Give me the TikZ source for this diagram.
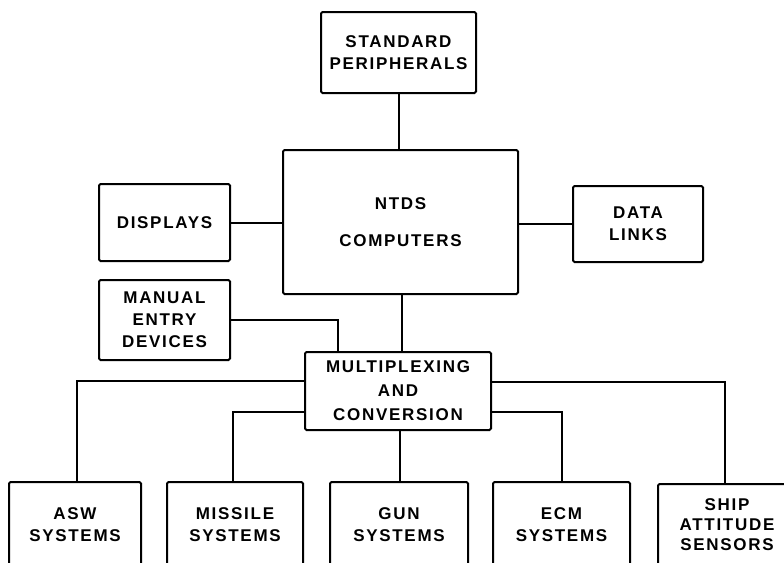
\documentclass[tikz,border=0pt]{standalone}
\usepackage{fontspec}
\setmainfont{Liberation Sans}[LetterSpace=10]
\begin{document}
\begin{tikzpicture}[x=1pt,y=-1pt,
  box/.style={draw, line width=2pt, rounded corners=1.5pt, inner sep=0pt, align=center,
    font=\fontsize{17}{22}\selectfont\bfseries},
  wire/.style={line width=2pt},
  sysbox/.style={box, minimum height=86pt}]
\useasboundingbox (0,0) rectangle (784,562);
\node[box, minimum width=155pt, minimum height=81pt] (std) at (398.5,52.5) {STANDARD\\PERIPHERALS};
\node[box, minimum width=235pt, minimum height=144pt, font=\fontsize{17}{37}\selectfont\bfseries] (ntds) at (400.5,222) {NTDS\\COMPUTERS};
\node[box, minimum width=131pt, minimum height=77pt] (disp) at (164.5,222.5) {DISPLAYS};
\node[box, minimum width=130pt, minimum height=76pt] (data) at (638,224) {DATA\\LINKS};
\node[box, minimum width=131pt, minimum height=80pt] (man) at (164.5,320) {MANUAL\\ENTRY\\DEVICES};
\node[box, minimum width=186pt, minimum height=78pt, font=\fontsize{17}{24}\selectfont\bfseries] (mux) at (398,391) {MULTIPLEXING\\AND\\CONVERSION};
\node[sysbox, minimum width=132pt] (asw) at (75,525) {ASW\\SYSTEMS};
\node[sysbox, minimum width=136pt] (mis) at (235,525) {MISSILE\\SYSTEMS};
\node[sysbox, minimum width=138pt] (gun) at (399,525) {GUN\\SYSTEMS};
\node[sysbox, minimum width=137pt] (ecm) at (561.5,525) {ECM\\SYSTEMS};
\node[sysbox, minimum width=138pt, minimum height=82pt, font=\fontsize{17}{20}\selectfont\bfseries] (ship) at (727,525) {SHIP\\ATTITUDE\\SENSORS};
\draw[wire] (std.south) -- (std.south |- ntds.north);
\draw[wire] (disp.east) -- (disp.east -| ntds.west);
\draw[wire] (data.west) -- (data.west -| ntds.east);
\draw[wire] ([xshift=1.5pt]ntds.south) -- ([xshift=1.5pt]ntds.south |- mux.north);
\draw[wire] (man.east) -| ([xshift=34pt]mux.north west);
\draw[wire] ([yshift=10pt]mux.west) -| ([xshift=2pt]asw.north);
\draw[wire] ([yshift=-21pt]mux.west) -| ([xshift=-2pt]mis.north);
\draw[wire] ([xshift=2pt]mux.south) -- ([xshift=2pt]mux.south |- gun.north);
\draw[wire] ([yshift=-21pt]mux.east) -| (ecm.north);
\draw[wire] ([yshift=9pt]mux.east) -| ([xshift=-2pt]ship.north);
\end{tikzpicture}
\end{document}
